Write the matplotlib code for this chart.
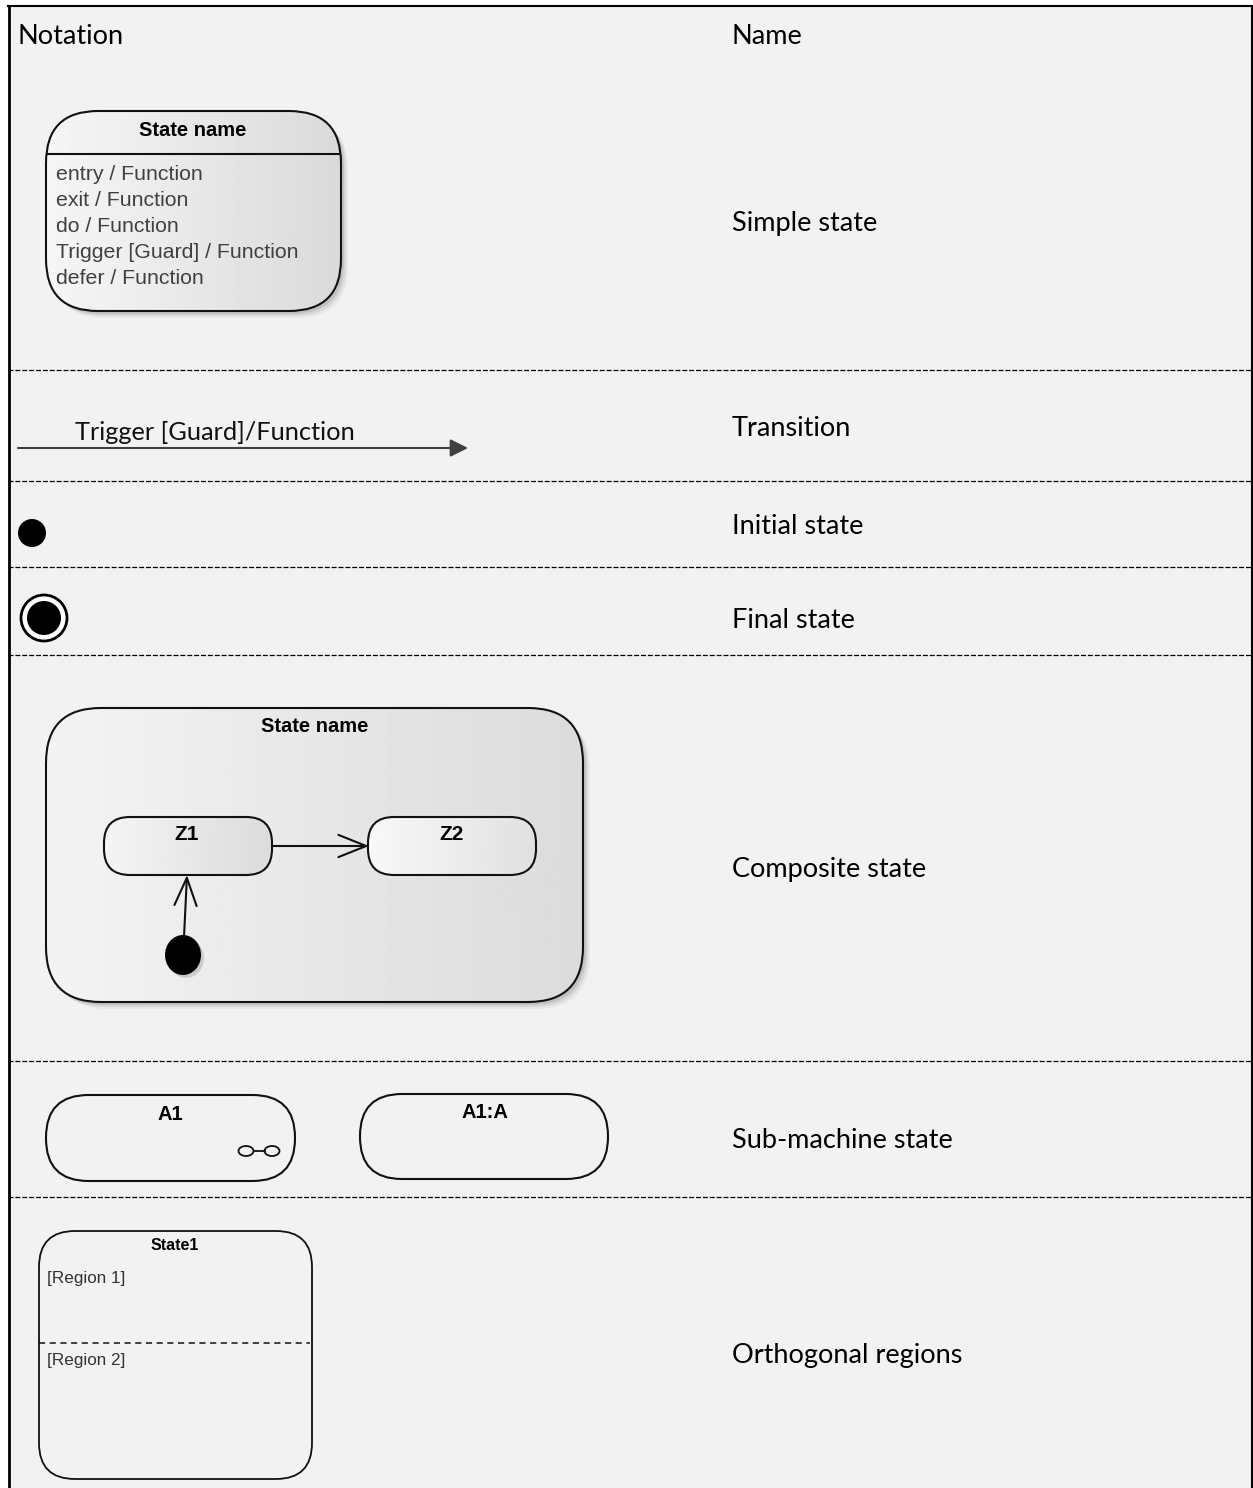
import numpy as np
import matplotlib.pyplot as plt
from matplotlib.patches import FancyBboxPatch, FancyArrowPatch, Ellipse, Circle, Rectangle

# table content
header_notation = "Notation"
header_name = "Name"
row_names = ["Simple state", "Transition", "Initial state", "Final state",
             "Composite state", "Sub-machine state", "Orthogonal regions"]
row_label_y = [224, 429, 527, 620, 869, 1140, 1355]
separators_y = [370, 481, 567, 655, 1061, 1197]
state_actions = ["entry / Function", "exit / Function", "do / Function",
                 "Trigger [Guard] / Function", "defer / Function"]
transition_label = "Trigger [Guard]/Function"
submachine_names = ["A1", "A1:A"]
region_names = ["[Region 1]", "[Region 2]"]

W, H = 1253, 1488
fig = plt.figure(figsize=(W / 100, H / 100), dpi=100)
ax = fig.add_axes([0, 0, 1, 1])
ax.axis('off')

HEAD_FONT = ['Lato', 'DejaVu Sans']
UML_FONT = ['Liberation Sans', 'DejaVu Sans']
BG = '#f2f2f2'


def rbox(x0, y0, w, h, r, fc='none', ec='#111111', lw=1.5, z=3, **kw):
    p = FancyBboxPatch((x0, y0), w, h, boxstyle=f"round,pad=0,rounding_size={r}",
                       fc=fc, ec=ec, lw=lw, zorder=z, **kw)
    ax.add_patch(p)
    return p


def state_box(x0, y0, w, h, r, c0=0.965, c1=0.855, shadow=True):
    if shadow:
        for k, a in [(7, 0.12), (5, 0.22), (3, 0.35)]:
            rbox(x0 + k, y0 + k, w, h, r, fc='#9a9a9a', ec='none', z=1, alpha=a)
    box = rbox(x0, y0, w, h, r, fc='none')
    g = np.linspace(c0, c1, 256)[None, :]
    im = ax.imshow(g, extent=(x0, x0 + w, y0 + h, y0), cmap='gray', vmin=0, vmax=1,
                   aspect='auto', zorder=2, interpolation='bilinear')
    im.set_clip_path(box)
    return box


# background of the table
ax.add_patch(Rectangle((8, 6), W - 8, H - 6, fc=BG, ec='none', zorder=0))
ax.plot([8, W], [6, 6], color='black', lw=1.5, zorder=5)
ax.plot([9, 9], [6, H], color='black', lw=2.0, zorder=5)
ax.plot([1252, 1252], [6, H], color='black', lw=1.5, zorder=5)
for y in separators_y:
    ax.plot([8, 1252], [y, y], color='black', lw=0.9, ls=(0, (4, 1.5)), zorder=5)

# headers and names
ax.text(18, 36, header_notation, fontsize=19.5, family=HEAD_FONT, va='center', ha='left')
ax.text(732, 36, header_name, fontsize=19.5, family=HEAD_FONT, va='center', ha='left')
for name, y in zip(row_names, row_label_y):
    ax.text(732, y, name, fontsize=19.5, family=HEAD_FONT, va='center', ha='left')

# simple state
sb = state_box(46, 111, 295, 200, 52)
ln, = ax.plot([46, 341], [154, 154], color='#111111', lw=1.5, zorder=4)
ln.set_clip_path(sb)
ax.text(193, 130, "State name", fontsize=14.5, family=UML_FONT, weight='bold',
        ha='center', va='center', zorder=6)
for i, s in enumerate(state_actions):
    ax.text(56, 174 + i * 26.2, s, fontsize=15.3, family=UML_FONT, color='#404040',
            ha='left', va='center', zorder=6)

# transition
ax.add_patch(FancyArrowPatch((18, 448), (468, 448), arrowstyle='-|>', mutation_scale=27,
                             color='#404040', lw=1.5, shrinkA=0, shrinkB=0, zorder=4))
ax.text(75, 433, transition_label, fontsize=18.3, family=HEAD_FONT, color='#111111',
        ha='left', va='center')

# initial and final state
ax.add_patch(Circle((32, 533), 14, fc='black', ec='none', zorder=4))
ax.add_patch(Circle((44, 618), 23, fc='white', ec='black', lw=2.0, zorder=4))
ax.add_patch(Circle((44, 618), 17, fc='black', ec='none', zorder=5))

# composite state
state_box(46, 708, 537, 294, 55, c0=0.955, c1=0.86)
ax.text(315, 727, "State name", fontsize=14.5, family=UML_FONT, weight='bold',
        ha='center', va='center', zorder=6)
state_box(104, 817, 168, 58, 26, c0=0.96, c1=0.86)
state_box(368, 817, 168, 58, 26, c0=0.975, c1=0.88)
ax.text(187, 835, "Z1", fontsize=15, family=UML_FONT, weight='bold', ha='center', va='center', zorder=6)
ax.text(452, 835, "Z2", fontsize=15, family=UML_FONT, weight='bold', ha='center', va='center', zorder=6)
open_head = '->,head_length=0.4,head_width=0.16'
ax.add_patch(FancyArrowPatch((272, 846), (369, 846), arrowstyle=open_head, mutation_scale=50,
                             color='#111111', lw=1.5, shrinkA=0, shrinkB=0, zorder=4))
ax.add_patch(Ellipse((183, 955), 36, 40, fc='black', ec='none', zorder=4))
ax.add_patch(Ellipse((186, 958), 36, 40, fc='#aaaaaa', ec='none', zorder=3, alpha=0.5))
ax.add_patch(FancyArrowPatch((184, 937), (187, 875), arrowstyle=open_head, mutation_scale=50,
                             color='#111111', lw=1.5, shrinkA=0, shrinkB=0, zorder=4))

# sub-machine states
rbox(46, 1095, 249, 86, 42.5, fc=BG)
rbox(360, 1094, 248, 85, 42, fc=BG)
ax.text(170, 1114, submachine_names[0], fontsize=14.5, family=UML_FONT, weight='bold',
        ha='center', va='center', zorder=6)
ax.text(485, 1112, submachine_names[1], fontsize=14.5, family=UML_FONT, weight='bold',
        ha='center', va='center', zorder=6)
ax.add_patch(Ellipse((246, 1151), 15, 10, fc='none', ec='#111111', lw=1.3, zorder=5))
ax.add_patch(Ellipse((272, 1151), 15, 10, fc='none', ec='#111111', lw=1.3, zorder=5))
ax.plot([253.5, 264.5], [1151, 1151], color='#111111', lw=1.3, zorder=5)

# orthogonal regions
rbox(39, 1231, 273, 248, 36, fc=BG, lw=1.3)
ax.text(175, 1246, "State1", fontsize=11.5, family=UML_FONT, weight='bold',
        ha='center', va='center', zorder=6)
ax.plot([39, 310], [1343, 1343], color='#111111', lw=1.1, ls=(0, (4, 3)), zorder=5)
ax.text(47, 1278, region_names[0], fontsize=12.3, family=UML_FONT, color='#333333',
        ha='left', va='center', zorder=6)
ax.text(47, 1361, region_names[1], fontsize=12.3, family=UML_FONT, color='#333333',
        ha='left', va='center', zorder=6)

ax.set_xlim(0, W)
ax.set_ylim(H, 0)
fig.savefig('out.png', dpi=100, facecolor='white')
